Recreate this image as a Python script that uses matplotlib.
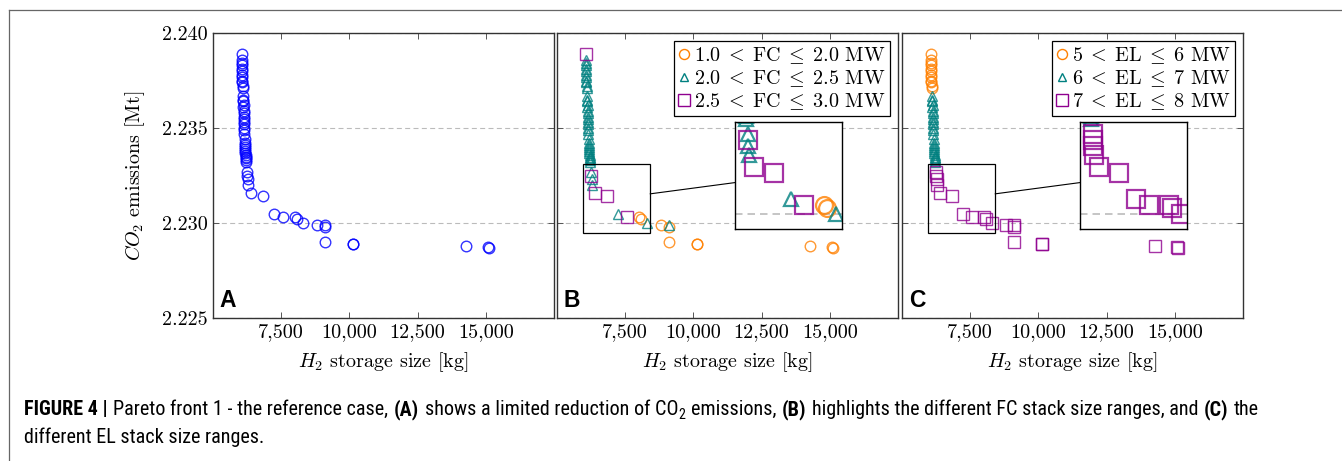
import os
import numpy as np
import matplotlib
matplotlib.use("Agg")
import matplotlib.pyplot as plt
from matplotlib import font_manager
from matplotlib.font_manager import FontProperties
from matplotlib.patches import Rectangle
from matplotlib.lines import Line2D

plt.rcParams['font.family'] = 'serif'
plt.rcParams['font.serif'] = ['cmr10']
plt.rcParams['mathtext.fontset'] = 'cm'
plt.rcParams['axes.formatter.use_mathtext'] = True
plt.rcParams['axes.unicode_minus'] = False

# ---- data: storage [kg], emissions [Mt] ----
storage_kg = [
    # steep column, top part
    6060, 6055, 6065, 6060, 6070, 6065, 6075, 6070, 6080, 6075, 6085, 6090,
    # column, middle part
    6100, 6110, 6105, 6120, 6115, 6125, 6120, 6135, 6130, 6140, 6135, 6145, 6140, 6150,
    # column, lower part
    6160, 6170, 6165, 6180, 6175, 6190, 6185, 6200, 6195, 6205, 6210, 6220,
    # knee
    6250, 6260, 6265, 6275,
    # tail
    6400, 6850, 7250, 7550, 8010, 8080, 8290, 8800, 9100, 9100, 9100,
    10150, 10150, 14270, 15070, 15120,
]
co2_mt = [
    2.2389, 2.2386, 2.2384, 2.2383, 2.2381, 2.2380, 2.2378, 2.2377, 2.2375, 2.2374, 2.2372, 2.2371,
    2.2367, 2.2365, 2.2364, 2.2362, 2.2361, 2.2359, 2.2358, 2.2356, 2.2355, 2.2353, 2.2352, 2.2350, 2.2349, 2.2347,
    2.2344, 2.2342, 2.2341, 2.2340, 2.2339, 2.2338, 2.2337, 2.2336, 2.2335, 2.2334, 2.2333, 2.2332,
    2.2327, 2.2325, 2.2323, 2.2320,
    2.2316, 2.2314, 2.2305, 2.2303, 2.2303, 2.2302, 2.2300, 2.2299, 2.22992, 2.2298, 2.2290,
    2.2289, 2.2289, 2.2288, 2.22872, 2.22868,
]
# FC stack range index: 0 -> 1.0-2.0, 1 -> 2.0-2.5, 2 -> 2.5-3.0 MW
fc_range = [2] + [1] * 11 + [1] * 14 + [1] * 12 + [1, 2, 1, 1] + \
    [2, 2, 1, 2, 0, 0, 1, 0, 1, 0, 0, 0, 0, 0, 0, 0]
# EL stack range index: 0 -> 5-6, 1 -> 6-7, 2 -> 7-8 MW
el_range = [0] * 12 + [1] * 14 + [1] * 12 + [2] * 4 + [2] * 16

fc_labels = [r'$1.0\;<\;\mathrm{FC}\;\leq\;2.0$ MW',
             r'$2.0\;<\;\mathrm{FC}\;\leq\;2.5$ MW',
             r'$2.5\;<\;\mathrm{FC}\;\leq\;3.0$ MW']
el_labels = [r'$5\;<\;\mathrm{EL}\;\leq\;6$ MW',
             r'$6\;<\;\mathrm{EL}\;\leq\;7$ MW',
             r'$7\;<\;\mathrm{EL}\;\leq\;8$ MW']

x_ticks = [7500, 10000, 12500, 15000]
y_ticks = [2.225, 2.230, 2.235, 2.240]
zoom_box = (5950, 8420, 2.2295, 2.2331)   # region shown magnified in B and C

x = np.array(storage_kg)
y = np.array(co2_mt)
fc = np.array(fc_range)
el = np.array(el_range)

orange = '#FF8000'
teal = '#008080'
purple = '#8F008F'
styles = [dict(marker='o', color=orange, ms=7.6),
          dict(marker='^', color=teal, ms=6.6),
          dict(marker='s', color=purple, ms=8.4)]

W, H = 1342, 461
fig = plt.figure(figsize=(W / 100, H / 100), dpi=100)


def px_axes(l, t, r, b):
    return fig.add_axes([l / W, 1 - b / H, (r - l) / W, (b - t) / H])


def style_axes(ax, show_y):
    ax.set_xlim(5000, 17500)
    ax.set_ylim(2.225, 2.240)
    ax.set_xticks(x_ticks)
    ax.set_xticklabels([f'{v:,}' for v in x_ticks])
    ax.set_yticks(y_ticks)
    ax.set_yticklabels([f'{v:.3f}' for v in y_ticks] if show_y else [])
    ax.tick_params(direction='in', top=True, right=True, length=4, width=0.7,
                   color='#555555', labelsize=14.5, pad=4)
    ax.grid(axis='y', color='#bbbbbb', lw=0.8, ls=(0, (4.5, 3)))
    ax.set_axisbelow(True)
    for s in ax.spines.values():
        s.set_linewidth(1.0)
        s.set_color('#333333')
    ax.set_xlabel(r'$H_2$ storage size [kg]', fontsize=14.5, labelpad=6)


def scatter_groups(ax, groups, scale=1.0):
    for k in range(3):
        m = groups == k
        st = styles[k]
        ax.plot(x[m], y[m], ls='none', marker=st['marker'], ms=st['ms'] * scale,
                mfc='none', mec=st['color'], mew=1.0 * scale, alpha=0.8)


def add_spy(ax, groups):
    x0, x1, y0, y1 = zoom_box
    ax.add_patch(Rectangle((x0, y0), x1 - x0, y1 - y0, fill=False, ec='black', lw=0.9, zorder=5))
    box = [0.521, 0.311, 0.315, 0.378]
    ins = ax.inset_axes(box)
    ins.set_xlim(x0, x1)
    ins.set_ylim(y0, y1)
    ins.set_xticks([])
    ins.set_yticks([])
    ins.axhline(2.230, color='#bbbbbb', lw=1.2, ls=(0, (4.5, 3)), zorder=0)
    for s in ins.spines.values():
        s.set_linewidth(1.0)
        s.set_color('black')
    scatter_groups(ins, groups, scale=1.6)
    # connector between the two boxes, along the line joining their centres
    p = ax.transData.transform([(x0, y0), (x1, y1)])
    q = ax.transAxes.transform([(box[0], box[1]), (box[0] + box[2], box[1] + box[3])])
    c1, c2 = p.mean(axis=0), q.mean(axis=0)
    d = c2 - c1
    h1, h2 = (p[1] - p[0]) / 2, (q[1] - q[0]) / 2
    t1 = min(h1[0] / abs(d[0]), h1[1] / abs(d[1]))
    t2 = min(h2[0] / abs(d[0]), h2[1] / abs(d[1]))
    a = fig.transFigure.inverted().transform([c1 + d * t1, c2 - d * t2])
    fig.add_artist(Line2D(a[:, 0], a[:, 1], color='black', lw=0.8))


def add_legend(ax, labels):
    handles = [Line2D([], [], ls='none', marker=st['marker'], ms=st['ms'] * 0.95, mfc='none',
                      mec=st['color'], mew=1.0) for st in styles]
    leg = ax.legend(handles, labels, loc='upper right', fontsize=14.5, fancybox=False,
                    edgecolor='black', framealpha=1, handlelength=0.6, handletextpad=0.2,
                    borderpad=0.2, labelspacing=0.12, borderaxespad=0.4)
    leg.get_frame().set_linewidth(0.9)


def panel_tag(ax, s):
    ax.text(0.02, 0.04, s, transform=ax.transAxes, fontsize=16.5, fontweight='bold',
            family='Liberation Sans', va='baseline', ha='left')


axA = px_axes(213, 33, 554, 318)
axB = px_axes(557, 33, 898, 318)
axC = px_axes(902, 33, 1243, 318)

# panel A: all solutions
style_axes(axA, True)
axA.plot(x, y, ls='none', marker='o', ms=7.6, mfc='none', mec='#0000FF', mew=1.0, alpha=0.8)
panel_tag(axA, 'A')

# panel B: FC stack size
style_axes(axB, False)
scatter_groups(axB, fc)
add_spy(axB, fc)
add_legend(axB, fc_labels)
panel_tag(axB, 'B')

# panel C: EL stack size
style_axes(axC, False)
scatter_groups(axC, el)
add_spy(axC, el)
add_legend(axC, el_labels)
panel_tag(axC, 'C')

fig.text(135 / W, 1 - 176 / H, r'$CO_2$ emissions [Mt]', rotation=90, fontsize=14.5,
         ha='center', va='center')

# outer frame of the figure panel (open to the right and bottom)
fig.add_artist(Line2D([8.5 / W, 1.0], [1 - 10.5 / H, 1 - 10.5 / H], color='#666666', lw=0.9))
fig.add_artist(Line2D([8.5 / W, 8.5 / W], [1 - 10.5 / H, 0.0], color='#666666', lw=0.9))


# ---- caption, in a condensed sans if one is installed ----
def caption_fonts():
    files = {os.path.basename(f.fname): f.fname for f in font_manager.fontManager.ttflist}
    for p in ['LiberationSansNarrow', 'RobotoCondensed', 'DejaVuSansCondensed',
              'NotoSans-Condensed', 'OpenSans-Condensed']:
        reg = next((files[n] for n in (p + '-Regular.ttf', p + '.ttf') if n in files), None)
        bld = next((files[n] for n in (p + '-Bold.ttf', p + 'Bold.ttf') if n in files), None)
        if reg and bld:
            return FontProperties(fname=reg), FontProperties(fname=bld)
    return FontProperties(family='Liberation Sans'), FontProperties(family='Liberation Sans', weight='bold')


fp_reg, fp_bold = caption_fonts()
renderer = fig.canvas.get_renderer()

line1 = [('FIGURE 4 |', True, False, False),
         ('Pareto front 1 - the reference case,', False, False, True),
         ('(A)', True, False, True),
         ('shows a limited reduction of CO', False, False, True),
         ('2', False, True, False),
         ('emissions,', False, False, True),
         ('(B)', True, False, True),
         ('highlights the different FC stack size ranges, and', False, False, True),
         ('(C)', True, False, True),
         ('the', False, False, True)]


def draw_line(runs, x0, base, size):
    arts = []
    xpos = x0
    sp = size * 0.278 * 100 / 72
    for text, bold, sub, space in runs:
        fp = (fp_bold if bold else fp_reg).copy()
        fp.set_size(size * (0.7 if sub else 1.0))
        if space:
            xpos += sp
        t = fig.text(xpos / W, 1 - (base + (size * 0.3 if sub else 0)) / H, text,
                     fontproperties=fp, va='baseline', ha='left')
        xpos += t.get_window_extent(renderer=renderer).width + (0.5 if sub else 0)
        arts.append(t)
    return arts, xpos


arts, end = draw_line(line1, 24, 415, 11)
for a in arts:
    a.remove()
cap_size = 11 * (1255 - 24) / (end - 24)
draw_line(line1, 24, 415, cap_size)
draw_line([('different EL stack size ranges.', False, False, False)], 24, 443, cap_size)

fig.savefig('out.png', dpi=100)
